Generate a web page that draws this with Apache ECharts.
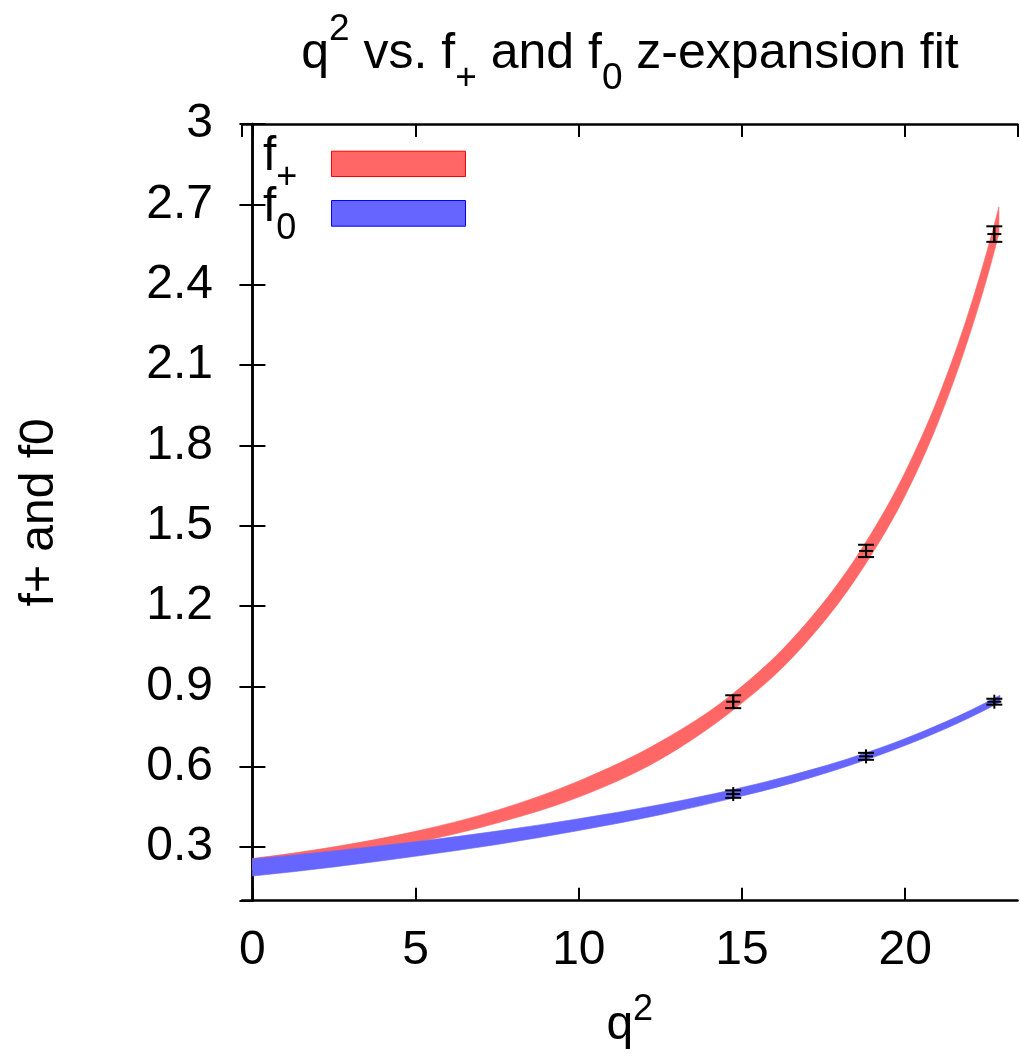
<!DOCTYPE html>
<html><head><meta charset="utf-8">
<script src="https://cdn.jsdelivr.net/npm/echarts@6/dist/echarts.min.js"></script>
<style>html,body{margin:0;padding:0;background:#fff}#c{width:1020px;height:1056px}</style>
</head><body><div id="c"></div>
<script>
// f+ fit band (lower / upper edge) vs q^2
const fpQ  = [0,     2.5,   5,     7.5,   10,    12.5,  14.73, 16.5,  18.8,  20,    21,    22,    22.5,  22.87];
const fpLo = [0.216, 0.261, 0.317, 0.390, 0.487, 0.628, 0.812, 1.002, 1.360, 1.613, 1.884, 2.223, 2.423, 2.590];
const fpHi = [0.258, 0.301, 0.359, 0.438, 0.547, 0.694, 0.874, 1.072, 1.440, 1.701, 1.976, 2.319, 2.523, 2.690];
// f0 fit band (lower / upper edge) vs q^2
const f0Q  = [0,     2.5,   5,     7.5,   10,    12.5,  14.73, 16.5,  18.8,  20.5,  22,    22.9];
const f0Lo = [0.192, 0.226, 0.266, 0.310, 0.362, 0.421, 0.483, 0.538, 0.626, 0.704, 0.785, 0.841];
const f0Hi = [0.256, 0.286, 0.320, 0.360, 0.406, 0.459, 0.515, 0.568, 0.652, 0.730, 0.811, 0.867];
// lattice data points with error bars
const ptQ   = [14.73, 18.8, 22.73];
const fpVal = [0.843, 1.406, 2.589];
const fpErr = [0.024, 0.023, 0.029];
const f0Val = [0.498, 0.639, 0.843];
const f0Err = [0.014, 0.013, 0.011];

const FONT = 'Liberation Sans, Arial, Helvetica, sans-serif';
const RED = '#ff6666', BLUE = '#6666ff';

// cubic Hermite (non-uniform, three-point tangents) through pixel points -> bezier segments
function hermiteSegs(pts) {
  const n = pts.length, h = [], d = [], m = [];
  for (let i = 0; i < n - 1; i++) {
    h.push(pts[i + 1][0] - pts[i][0]);
    d.push((pts[i + 1][1] - pts[i][1]) / h[i]);
  }
  for (let i = 0; i < n; i++) {
    if (i === 0) m.push(n > 2 ? ((2 * h[0] + h[1]) * d[0] - h[0] * d[1]) / (h[0] + h[1]) : d[0]);
    else if (i === n - 1) m.push(n > 2 ? ((2 * h[n - 2] + h[n - 3]) * d[n - 2] - h[n - 2] * d[n - 3]) / (h[n - 2] + h[n - 3]) : d[n - 2]);
    else m.push((h[i] * d[i - 1] + h[i - 1] * d[i]) / (h[i - 1] + h[i]));
  }
  const segs = [];
  for (let i = 0; i < n - 1; i++) {
    const p1 = pts[i], p2 = pts[i + 1], k = h[i] / 3;
    segs.push([p1, [p1[0] + k, p1[1] + m[i] * k], [p2[0] - k, p2[1] - m[i + 1] * k], p2]);
  }
  return segs;
}
const P = p => p[0] + ',' + p[1];

function bandRenderer(qs, lo, hi, color) {
  return function (params, api) {
    if (params.dataIndex !== 0) return null;
    const top = hermiteSegs(qs.map((q, i) => api.coord([q, hi[i]])));
    const bot = hermiteSegs(qs.map((q, i) => api.coord([q, lo[i]])));
    let d = 'M' + P(top[0][0]);
    top.forEach(s => { d += 'C' + P(s[1]) + ' ' + P(s[2]) + ' ' + P(s[3]); });
    d += 'L' + P(bot[bot.length - 1][3]);
    for (let i = bot.length - 1; i >= 0; i--) {
      const s = bot[i];
      d += 'C' + P(s[2]) + ' ' + P(s[1]) + ' ' + P(s[0]);
    }
    d += 'Z';
    return {type: 'path', shape: {pathData: d}, style: {fill: color, stroke: color, lineWidth: 0.6}};
  };
}

function errItem(params, api) {
  const x = api.value(0), y = api.value(1), e = api.value(2);
  const p = api.coord([x, y]);
  const t = api.coord([x, y + e]);
  const b = api.coord([x, y - e]);
  const cw = 8, pw = 7;
  const st = {stroke: '#000', lineWidth: 2};
  const ln = (x1, y1, x2, y2) => ({type: 'line', shape: {x1, y1, x2, y2}, style: st});
  return {type: 'group', children: [
    ln(t[0], t[1], b[0], b[1]),
    ln(t[0] - cw, t[1], t[0] + cw, t[1]),
    ln(b[0] - cw, b[1], b[0] + cw, b[1]),
    ln(p[0] - pw, p[1], p[0] + pw, p[1]),
    ln(p[0], p[1] - pw, p[0], p[1] + pw)
  ]};
}

const axisLineStyle = {color: '#000', width: 2.5};
const tickStyle = {show: true, inside: true, length: 13, lineStyle: {color: '#000', width: 2}};

const richT = {fontSize: 50, lineHeight: 86, fontFamily: FONT, fontWeight: 'normal', color: '#000'};
const richSup = {fontSize: 37, lineHeight: 37, verticalAlign: 'top', fontFamily: FONT, fontWeight: 'normal', color: '#000'};
const richSub = {fontSize: 37, lineHeight: 37, verticalAlign: 'bottom', fontFamily: FONT, fontWeight: 'normal', color: '#000'};
const xNameT = {fontSize: 48, lineHeight: 68, fontFamily: FONT, color: '#000'};
const xNameSup = {fontSize: 36, lineHeight: 36, verticalAlign: 'top', fontFamily: FONT, color: '#000'};
const legRich = {
  m: {fontSize: 48, lineHeight: 78, fontFamily: FONT, fill: '#000'},
  s: {fontSize: 36, lineHeight: 36, verticalAlign: 'bottom', fontFamily: FONT, fill: '#000'}
};

const chart = echarts.init(document.getElementById('c'), null, {renderer: 'canvas'});
chart.setOption({
  animation: false,
  backgroundColor: '#fff',
  title: {
    text: '{t|q}{sup|2}{t| vs. f}{sub|+}{t| and f}{sub|0}{t| z-expansion fit}',
    left: 630, top: 11, textAlign: 'center', padding: 0,
    textStyle: {fontWeight: 'normal', rich: {t: richT, sup: richSup, sub: richSub}}
  },
  grid: {left: 242, right: 2.5, top: 124, bottom: 155.3, containLabel: false},
  xAxis: [{
    type: 'value', position: 'bottom', min: -0.32, max: 23.44, minInterval: 5, maxInterval: 5,
    axisLine: {show: true, lineStyle: axisLineStyle},
    axisTick: tickStyle,
    axisLabel: {fontSize: 48, lineHeight: 48, color: '#000', fontFamily: FONT, margin: 26, showMinLabel: false, showMaxLabel: false},
    splitLine: {show: false},
    name: '{t|q}{sup|2}', nameLocation: 'middle', nameGap: 91,
    nameTextStyle: {rich: {t: xNameT, sup: xNameSup}}
  }, {
    type: 'value', position: 'top', min: -0.32, max: 23.44, minInterval: 5, maxInterval: 5,
    axisLine: {show: true, lineStyle: axisLineStyle},
    axisTick: tickStyle, axisLabel: {show: false}, splitLine: {show: false}
  }],
  yAxis: [{
    type: 'value', position: 'left', min: 0.1, max: 3, minInterval: 0.3, maxInterval: 0.3,
    axisLine: {show: true, lineStyle: axisLineStyle},
    axisTick: tickStyle,
    axisLabel: {fontSize: 48, lineHeight: 48, color: '#000', fontFamily: FONT, margin: 29, showMinLabel: false},
    splitLine: {show: false},
    name: 'f+ and f0', nameLocation: 'middle', nameGap: 178,
    nameTextStyle: {fontSize: 48, lineHeight: 48, color: '#000', fontFamily: FONT}
  }, {
    type: 'value', position: 'right', min: 0.1, max: 3, minInterval: 0.3, maxInterval: 0.3,
    axisLine: {show: true, lineStyle: axisLineStyle},
    axisTick: tickStyle, axisLabel: {show: false}, splitLine: {show: false}
  }],
  series: [
    {name: 'f+', type: 'custom', silent: true, z: 2, encode: {x: 0, y: [1, 2]},
     renderItem: bandRenderer(fpQ, fpLo, fpHi, RED),
     data: fpQ.map((q, i) => [q, fpLo[i], fpHi[i]])},
    {name: 'f0', type: 'custom', silent: true, z: 3, encode: {x: 0, y: [1, 2]},
     renderItem: bandRenderer(f0Q, f0Lo, f0Hi, BLUE),
     data: f0Q.map((q, i) => [q, f0Lo[i], f0Hi[i]])},
    {name: 'f+ data', type: 'custom', renderItem: errItem, encode: {x: 0, y: 1}, z: 5,
     data: ptQ.map((q, i) => [q, fpVal[i], fpErr[i]])},
    {name: 'f0 data', type: 'custom', renderItem: errItem, encode: {x: 0, y: 1}, z: 5,
     data: ptQ.map((q, i) => [q, f0Val[i], f0Err[i]])}
  ],
  graphic: [
    {type: 'rect', z: 100, left: 331, top: 150.7, shape: {width: 134, height: 25.3},
     style: {fill: RED, stroke: '#ff0000', lineWidth: 1}},
    {type: 'rect', z: 100, left: 331, top: 200, shape: {width: 134, height: 25.7},
     style: {fill: BLUE, stroke: '#0000ff', lineWidth: 1}},
    {type: 'text', z: 100, left: 263, top: 133, style: {text: '{m|f}{s|+}', rich: legRich}},
    {type: 'text', z: 100, left: 263, top: 184, style: {text: '{m|f}{s|0}', rich: legRich}}
  ]
});
</script></body></html>
